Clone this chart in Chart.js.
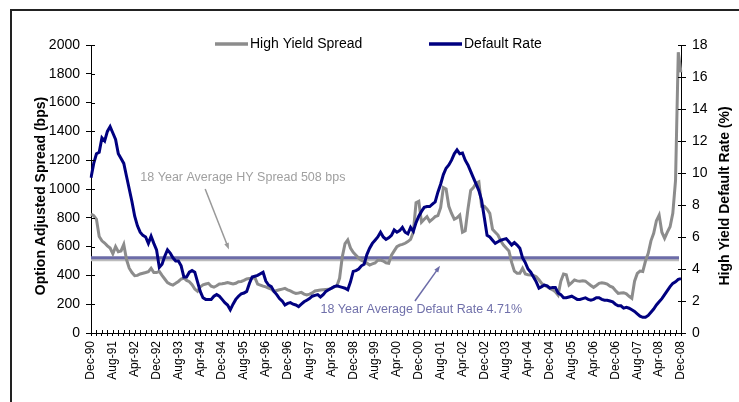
<!DOCTYPE html>
<html>
<head>
<meta charset="utf-8">
<title>High Yield Spread vs Default Rate</title>
<script src="https://cdn.jsdelivr.net/npm/chart.js@4.4.1/dist/chart.umd.min.js"></script>
<style>
  html, body { margin: 0; padding: 0; background: #fff; }
  canvas { display: block; }
</style>
</head>
<body>
<canvas id="graph" width="739" height="402"></canvas>
<script>
// monthly observations, Dec-90 .. Dec-08
const monthNames = ['Jan', 'Feb', 'Mar', 'Apr', 'May', 'Jun', 'Jul', 'Aug', 'Sep', 'Oct', 'Nov', 'Dec'];
const firstYear = 1990;
const firstMonth = 11;
const monthCount = 217;

// option adjusted spread, bps
const hySpread = [
    826, 815, 790, 670, 640, 625, 605, 590, 550, 600, 565, 570,
    615, 510, 450, 420, 398, 400, 410, 415, 420, 426, 449, 420,
    420, 428, 400, 375, 350, 340, 333, 345, 358, 375, 382, 365,
    356, 335, 305, 290, 320, 335, 340, 345, 325, 318, 328, 340,
    342, 345, 350, 345, 340, 345, 356, 358, 365, 375, 378, 380,
    385, 340, 333, 325, 320, 312, 305, 288, 295, 300, 305, 310,
    300, 292, 282, 275, 278, 282, 270, 264, 270, 278, 292, 295,
    298, 300, 302, 303, 310, 320, 326, 380, 530, 620, 646, 590,
    560, 540, 520, 505, 495, 485, 472, 480, 486, 505, 507, 500,
    488, 484, 540, 570, 600, 610, 615, 623, 635, 650, 700, 905,
    915, 770, 790, 808, 775, 790, 808, 815, 870, 1010, 1000, 880,
    830, 790, 800, 819, 700, 710, 860, 990, 1010, 1040, 1050, 880,
    880, 860, 831, 720, 700, 680, 640, 611, 590, 570, 490, 430,
    415, 415, 449, 410, 405, 403, 400, 391, 370, 345, 330, 322,
    310, 300, 287, 264, 360, 410, 405, 333, 350, 368, 362, 360,
    362, 360, 345, 330, 317, 330, 345, 348, 345, 340, 325, 317,
    295, 275, 278, 280, 272, 255, 241, 360, 414, 430, 427, 500,
    553, 640, 692, 780, 819, 700, 657, 700, 738, 831, 1060, 1950,
    1810
];

// trailing default rate, %
const defaultRate = [
    9.7, 10.6, 11.2, 11.3, 12.2, 12.0, 12.6, 12.9, 12.5, 12.1, 11.2, 10.9,
    10.6, 9.8, 9.0, 8.2, 7.3, 6.7, 6.3, 6.1, 6.0, 5.6, 6.05, 5.6,
    5.2, 4.1, 4.3, 4.8, 5.2, 5.0, 4.7, 4.5, 4.5, 4.2, 3.5, 3.5,
    3.8, 3.9, 3.8, 3.2, 2.6, 2.2, 2.1, 2.1, 2.1, 2.3, 2.4, 2.3,
    2.1, 1.9, 1.75, 1.45, 1.8, 2.1, 2.3, 2.45, 2.5, 2.6, 3.1, 3.5,
    3.55, 3.6, 3.7, 3.8, 3.25, 3.0, 2.9, 2.6, 2.4, 2.15, 2.0, 1.75,
    1.85, 1.9, 1.8, 1.75, 1.65, 1.8, 1.95, 2.05, 2.15, 2.3, 2.35, 2.4,
    2.25, 2.4, 2.6, 2.7, 2.8, 2.9, 2.95, 2.9, 2.85, 2.8, 2.7, 3.2,
    3.85, 3.9, 4.0, 4.2, 4.3, 4.9, 5.3, 5.6, 5.8, 6.0, 6.3, 6.0,
    5.85, 5.95, 6.1, 6.44, 6.3, 6.4, 6.6, 6.3, 6.2, 6.6, 6.35, 6.9,
    7.3, 7.6, 7.85, 7.9, 7.9, 8.05, 8.2, 8.8, 9.3, 9.9, 10.3, 10.5,
    10.8, 11.2, 11.45, 11.2, 11.25, 10.8, 10.5, 10.1, 9.7, 9.3, 8.9, 8.3,
    7.2, 6.1, 6.0, 5.8, 5.6, 5.7, 5.8, 5.85, 5.9, 5.7, 5.5, 5.65,
    5.5, 5.3, 4.7, 4.4, 4.0, 3.8, 3.5, 3.2, 2.8, 2.9, 3.0, 2.95,
    2.8, 2.85, 2.85, 2.5, 2.4, 2.2, 2.2, 2.25, 2.3, 2.2, 2.1, 2.1,
    2.15, 2.2, 2.1, 2.05, 2.1, 2.2, 2.2, 2.1, 2.05, 2.05, 2.0, 1.95,
    1.8, 1.7, 1.7, 1.55, 1.6, 1.55, 1.45, 1.35, 1.2, 1.05, 0.98, 0.98,
    1.1, 1.3, 1.5, 1.75, 1.95, 2.15, 2.4, 2.65, 2.9, 3.1, 3.2, 3.35,
    3.4
];

const avgSpread = 508;
const avgDefault = 4.71;

const spreadTicks = [0, 200, 400, 600, 800, 1000, 1200, 1400, 1600, 1800, 2000];
const rateTicks = [0, 2, 4, 6, 8, 10, 12, 14, 16, 18];

const FONT = '"Liberation Sans", Arial, Helvetica, sans-serif';
const GREY = '#8c8c8c';
const NAVY = '#000080';
const AVG_GREY = '#bcbcbc';
const AVG_BLUE = '#6c6ca8';

let months = [];
for (let i = 0; i < monthCount; i++) {
    const m = (firstMonth + i) % 12;
    const y = firstYear + Math.floor((firstMonth + i) / 12);
    months.push(monthNames[m] + '-' + String(y % 100).padStart(2, '0'));
}

function arrow(ctx, x0, y0, x1, y1, color) {
    const ang = Math.atan2(y1 - y0, x1 - x0);
    const head = 7;
    ctx.strokeStyle = color;
    ctx.fillStyle = color;
    ctx.lineWidth = 1.5;
    ctx.beginPath();
    ctx.moveTo(x0, y0);
    ctx.lineTo(x1 - Math.cos(ang) * head * 0.8, y1 - Math.sin(ang) * head * 0.8);
    ctx.stroke();
    ctx.beginPath();
    ctx.moveTo(x1, y1);
    ctx.lineTo(x1 - head * Math.cos(ang - 0.35), y1 - head * Math.sin(ang - 0.35));
    ctx.lineTo(x1 - head * Math.cos(ang + 0.35), y1 - head * Math.sin(ang + 0.35));
    ctx.closePath();
    ctx.fill();
}

const decorations = {
    id: 'decorations',
    beforeDraw(chart) {
        const ctx = chart.ctx;
        ctx.save();
        ctx.fillStyle = '#fff';
        ctx.fillRect(0, 0, chart.width, chart.height);
        // outer frame, only top and left edges show
        ctx.strokeStyle = '#222';
        ctx.lineWidth = 2;
        ctx.beginPath();
        ctx.moveTo(chart.width, 10);
        ctx.lineTo(11, 10);
        ctx.lineTo(11, chart.height);
        ctx.stroke();
        ctx.restore();
    },
    beforeDatasetsDraw(chart) {
        const ctx = chart.ctx;
        const area = chart.chartArea;
        const yS = chart.scales.y.getPixelForValue(avgSpread);
        const yD = chart.scales.y1.getPixelForValue(avgDefault);
        ctx.save();
        ctx.lineWidth = 3;
        ctx.strokeStyle = AVG_GREY;
        ctx.beginPath();
        ctx.moveTo(area.left, yS);
        ctx.lineTo(area.right - 2, yS);
        ctx.stroke();
        ctx.strokeStyle = AVG_BLUE;
        ctx.beginPath();
        ctx.moveTo(area.left, yD);
        ctx.lineTo(area.right - 2, yD);
        ctx.stroke();
        ctx.restore();
    },
    afterDraw(chart) {
        const ctx = chart.ctx;
        const area = chart.chartArea;
        const x = chart.scales.x;
        const y = chart.scales.y;
        const y1 = chart.scales.y1;
        ctx.save();

        // inner halves of the crossing tick marks
        ctx.strokeStyle = '#000';
        ctx.lineWidth = 1;
        ctx.beginPath();
        for (let i = 0; i < monthCount; i += 2) {
            const px = Math.round(x.getPixelForValue(i)) + 0.5;
            ctx.moveTo(px, area.bottom);
            ctx.lineTo(px, area.bottom - 3);
        }
        spreadTicks.forEach(function (v) {
            const py = Math.round(y.getPixelForValue(v)) + 0.5;
            ctx.moveTo(area.left, py);
            ctx.lineTo(area.left + 4, py);
        });
        rateTicks.forEach(function (v) {
            const py = Math.round(y1.getPixelForValue(v)) + 0.5;
            ctx.moveTo(area.right, py);
            ctx.lineTo(area.right - 3, py);
        });
        ctx.stroke();

        // average annotations
        ctx.font = '12.5px ' + FONT;
        ctx.textAlign = 'center';
        ctx.textBaseline = 'middle';
        ctx.fillStyle = '#a0a0a0';
        ctx.fillText('18 Year Average HY Spread ' + avgSpread + ' bps', x.getPixelForValue(55.6), y.getPixelForValue(1083));
        arrow(ctx, x.getPixelForValue(41.8), y.getPixelForValue(1000), x.getPixelForValue(50.5), y.getPixelForValue(580), '#999');

        ctx.fillStyle = '#7070aa';
        ctx.fillText('18 Year Average Defaut Rate ' + avgDefault + '%', x.getPixelForValue(120.9), y1.getPixelForValue(1.44));
        arrow(ctx, x.getPixelForValue(118.6), y1.getPixelForValue(2.0), x.getPixelForValue(127.8), y1.getPixelForValue(4.2), '#6c6ca8');

        // axis titles, both read bottom to top
        ctx.fillStyle = '#000';
        ctx.font = 'bold 14px ' + FONT;
        ctx.save();
        ctx.translate(41, (area.top + area.bottom) / 2 + 7);
        ctx.rotate(-Math.PI / 2);
        ctx.fillText('Option Adjusted Spread (bps)', 0, 0);
        ctx.restore();
        ctx.save();
        ctx.translate(725, (area.top + area.bottom) / 2 + 7);
        ctx.rotate(-Math.PI / 2);
        ctx.fillText('High Yield Default Rate (%)', 0, 0);
        ctx.restore();

        // legend
        const items = [
            { ds: chart.data.datasets[0], x0: 215, x1: 248 },
            { ds: chart.data.datasets[1], x0: 429, x1: 462 }
        ];
        ctx.font = '14px ' + FONT;
        ctx.textAlign = 'left';
        items.forEach(function (it) {
            ctx.strokeStyle = it.ds.borderColor;
            ctx.lineWidth = 3.5;
            ctx.beginPath();
            ctx.moveTo(it.x0, 44);
            ctx.lineTo(it.x1, 44);
            ctx.stroke();
            ctx.fillStyle = '#000';
            ctx.fillText(it.ds.label, it.x1 + 2, 44);
        });
        ctx.restore();
    }
};

const context = document.getElementById('graph');
new Chart(context, {
    type: 'line',
    data: {
        labels: months,
        datasets: [
            {
                label: 'High Yield Spread',
                data: hySpread,
                yAxisID: 'y',
                borderColor: GREY,
                borderWidth: 3,
                pointRadius: 0,
                tension: 0,
                order: 2
            },
            {
                label: 'Default Rate',
                data: defaultRate,
                yAxisID: 'y1',
                borderColor: NAVY,
                borderWidth: 3,
                pointRadius: 0,
                tension: 0,
                order: 1
            }
        ]
    },
    options: {
        responsive: false,
        animation: false,
        devicePixelRatio: 1,
        layout: { padding: { top: 45, left: 0, right: 0, bottom: 0 } },
        plugins: {
            legend: { display: false },
            tooltip: { enabled: false }
        },
        scales: {
            x: {
                type: 'category',
                offset: false,
                afterFit: function (scale) { scale.height = 69; },
                grid: {
                    drawOnChartArea: false,
                    tickLength: 3,
                    tickColor: function (c) { return c.index % 2 === 0 ? '#000' : 'rgba(0,0,0,0)'; }
                },
                border: { color: '#000', width: 1 },
                ticks: {
                    autoSkip: false,
                    minRotation: 90,
                    maxRotation: 90,
                    padding: 5,
                    color: '#000',
                    font: { family: FONT, size: 12 },
                    callback: function (value, index) {
                        return index % 8 === 0 ? this.getLabelForValue(value) : '';
                    }
                }
            },
            y: {
                position: 'left',
                min: 0,
                max: 2000,
                afterFit: function (scale) { scale.width = 91; },
                afterBuildTicks: function (scale) {
                    scale.ticks = spreadTicks.map(function (v) { return { value: v }; });
                },
                grid: { drawOnChartArea: false, tickLength: 5, color: '#000' },
                border: { color: '#000', width: 1 },
                ticks: {
                    padding: 6,
                    color: '#000',
                    font: { family: FONT, size: 14 },
                    callback: function (value) { return String(value); }
                }
            },
            y1: {
                position: 'right',
                min: 0,
                max: 18,
                afterFit: function (scale) { scale.width = 58; },
                afterBuildTicks: function (scale) {
                    scale.ticks = rateTicks.map(function (v) { return { value: v }; });
                },
                grid: { drawOnChartArea: false, tickLength: 5, color: '#000' },
                border: { color: '#000', width: 1 },
                ticks: {
                    padding: 6,
                    color: '#000',
                    font: { family: FONT, size: 14 },
                    callback: function (value) { return String(value); }
                }
            }
        }
    },
    plugins: [decorations]
});
</script>
</body>
</html>
